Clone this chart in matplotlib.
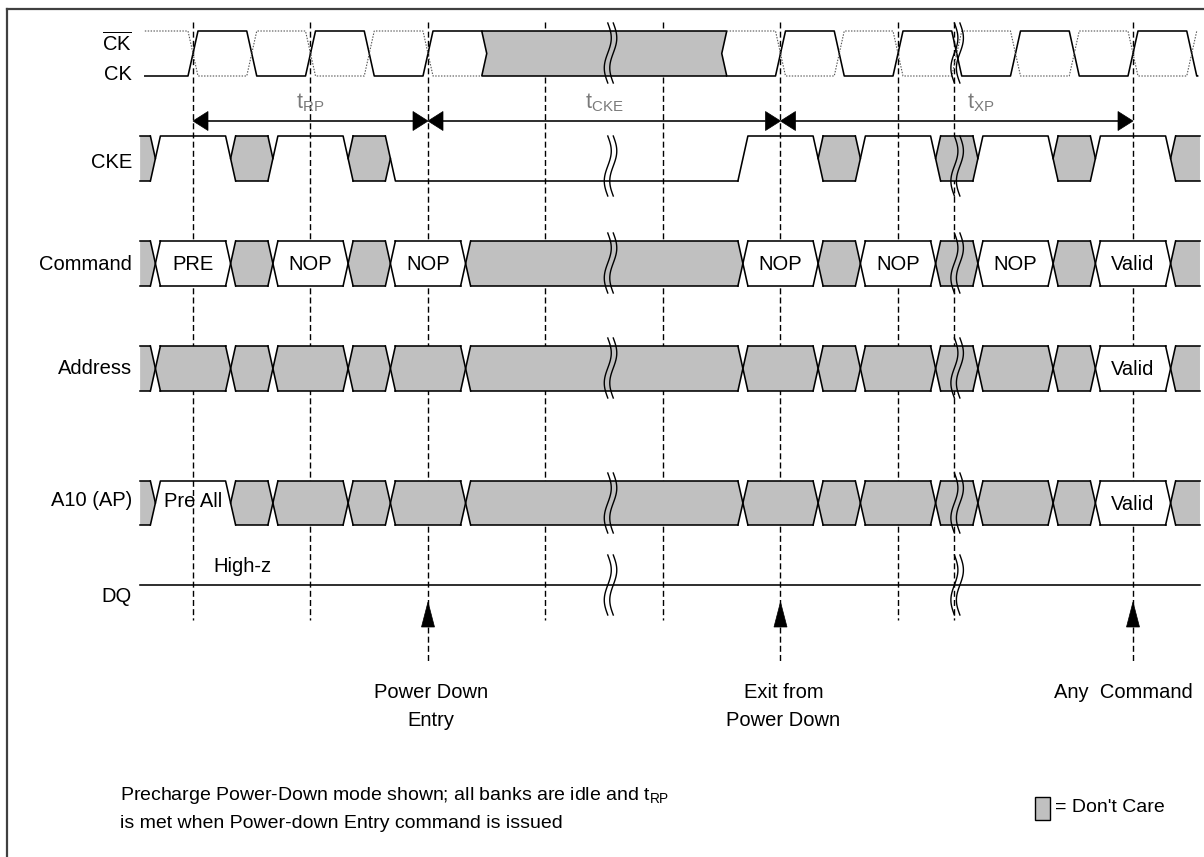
import numpy as np
import matplotlib
matplotlib.use("Agg")
import matplotlib.pyplot as plt
from matplotlib.patches import Polygon, Rectangle

plt.rcParams['font.family'] = ['Liberation Sans', 'DejaVu Sans']

# ---- timing data (x in clock cycles, 0 = first reference rising edge) ----
guide_edges = [0, 1, 2, 3, 4, 5, 6, 6.48, 8]
arrow_edges = [2, 5, 8]
arrow_texts = [['Power Down', 'Entry'], ['Exit from', 'Power Down'], ['Any  Command']]
break_times = [3.53, 6.48]

timing_names = ['RP', 'CKE', 'XP']
timing_from = [0, 2, 5]
timing_to = [2, 5, 8]

# clock: edges before and after the stopped (don't care) band
ck_start, ck_end = -0.41, 8.55
ck_edges_pre = [0, 0.5, 1, 1.5, 2]
ck_edges_post = [5, 5.5, 6, 6.5, 7, 7.5, 8, 8.5]
ck_idle = (2.5, 4.5)

# CKE levels
cke_edges = [-0.45, -0.32, 0.32, 0.68, 1.32, 1.68, 4.68, 5.32, 5.68,
             6.32, 6.68, 7.32, 7.68, 8.32, 8.57]
cke_states = ['X', 'H', 'X', 'H', 'X', 'L', 'H', 'X', 'H', 'X', 'H', 'X', 'H', 'X']

# bus rows share the same transition points
bus_edges = [-0.45, -0.32, 0.32, 0.68, 1.32, 1.68, 2.32, 4.68, 5.32, 5.68,
             6.32, 6.68, 7.32, 7.68, 8.32, 8.57]
command_vals = ['X', 'PRE', 'X', 'NOP', 'X', 'NOP', 'X', 'NOP', 'X', 'NOP',
                'X', 'NOP', 'X', 'Valid', 'X']
address_vals = ['X', 'X', 'X', 'X', 'X', 'X', 'X', 'X', 'X', 'X',
                'X', 'X', 'X', 'Valid', 'X']
a10_vals = ['X', 'H', 'X', 'X', 'X', 'X', 'X', 'X', 'X', 'X',
            'X', 'X', 'X', 'Valid', 'X']
a10_high_text = 'Pre All'

# ---- layout (pixels) ----
X0, PER = 193, 117.5
def tx(p):
    return (p - X0) / PER

H = tx(X0 + 5)          # half transition width
GRAY = '#c0c0c0'
LW = 1.15
FS = 14.5

fig = plt.figure(figsize=(12.04, 8.57), dpi=100)
ax = fig.add_axes([0, 0, 1, 1])
ax.set_xlim(tx(0), tx(1204))
ax.set_ylim(857, 0)
ax.axis('off')

# frame
ax.plot([tx(7), tx(1204)], [9, 9], color='#404040', lw=1.6)
ax.plot([tx(7), tx(7)], [9, 857], color='#404040', lw=1.6)

# dashed guides
for t in guide_edges:
    bottom = 662 if t in arrow_edges else 620
    ax.plot([t, t], [22, bottom], color='black', lw=1.0,
            dashes=(4.3, 2.3), zorder=1)

# ---- clock ----
CK_T, CK_B = 31, 76
def clock_points(edges, t_from, t_to, level_high):
    pts = [(t_from, CK_T if level_high else CK_B)]
    lvl = level_high
    for e in edges:
        pts.append((e - H, CK_T if lvl else CK_B))
        lvl = not lvl
        pts.append((e + H, CK_T if lvl else CK_B))
    pts.append((t_to, CK_T if lvl else CK_B))
    return pts

band0, band1 = ck_idle[0] - H, ck_idle[1] + H
for solid in (True, False):
    start_high = not solid
    pre = clock_points(ck_edges_pre, ck_start, band0, start_high)
    post = clock_points(ck_edges_post, band1, ck_end, start_high)
    kw = dict(color='black', lw=LW, zorder=3) if solid else \
        dict(color='#555555', lw=0.8, dashes=(1.3, 1.3), zorder=3)
    for seg in (pre, post):
        ax.plot(*zip(*seg), **kw)

ckm = (CK_T + CK_B) / 2
band = [(band0, CK_T), (band1, CK_T), (ck_idle[1], ckm), (band1, CK_B),
        (band0, CK_B), (ck_idle[0], ckm)]
ax.add_patch(Polygon(band, closed=True, fc=GRAY, ec='black', lw=LW, zorder=2))


def draw_signal(edges, states, yt, yb, level_text=None):
    ym = (yt + yb) / 2
    n = len(states)
    for i, s in enumerate(states):
        t0, t1 = edges[i], edges[i + 1]
        cl, cr = i == 0, i == n - 1
        if s in ('H', 'L'):
            lvl = yt if s == 'H' else yb
            pts = []
            if cl:
                pts.append((t0, lvl))
            else:
                p = states[i - 1]
                if p in ('H', 'L'):
                    pts.append((t0 - H, yt if p == 'H' else yb))
                else:
                    pts.append((t0, ym))
                pts.append((t0 + H, lvl))
            if cr:
                pts.append((t1, lvl))
            else:
                pts.append((t1 - H, lvl))
                if states[i + 1] not in ('H', 'L'):
                    pts.append((t1, ym))
            ax.plot(*zip(*pts), color='black', lw=LW, zorder=3)
            if level_text and s == 'H':
                ax.text((t0 + t1) / 2, ym - 2, level_text, ha='center',
                        va='center', fontsize=FS, zorder=4)
        else:
            la = t0 if cl else t0 + H
            ra = t1 if cr else t1 - H
            poly = [(la, yt), (ra, yt)]
            if not cr:
                poly.append((t1, ym))
            poly += [(ra, yb), (la, yb)]
            if not cl:
                poly.append((t0, ym))
            fc = GRAY if s == 'X' else 'white'
            ax.add_patch(Polygon(poly, closed=True, fc=fc, ec='none', zorder=2))
            ax.plot([la, ra], [yt, yt], color='black', lw=LW, zorder=3)
            ax.plot([la, ra], [yb, yb], color='black', lw=LW, zorder=3)
            if not cr:
                ax.plot([ra, t1, ra], [yt, ym, yb], color='black', lw=LW, zorder=3)
            if not cl:
                ax.plot([la, t0, la], [yt, ym, yb], color='black', lw=LW, zorder=3)
            if s != 'X':
                ax.text((t0 + t1) / 2, ym + 1, s, ha='center', va='center',
                        fontsize=FS, zorder=4)


draw_signal(cke_edges, cke_states, 136, 181)
draw_signal(bus_edges, command_vals, 241, 286)
draw_signal(bus_edges, address_vals, 346, 391)
draw_signal(bus_edges, a10_vals, 481, 525, level_text=a10_high_text)

# DQ
DQ_Y = 585
ax.plot([bus_edges[0], bus_edges[-1]], [DQ_Y, DQ_Y], color='black', lw=LW, zorder=3)
ax.text(tx(213), 566, 'High-z', ha='left', va='center', fontsize=FS)

# timing arrows
AY = 121
hl, hw = tx(X0 + 15), 9.5
for name, a, b, lx in zip(timing_names, timing_from, timing_to, [1.0, 3.5, 6.7]):
    ax.plot([a + hl, b - hl], [AY, AY], color='black', lw=LW, zorder=3)
    ax.add_patch(Polygon([(a, AY), (a + hl, AY - hw), (a + hl, AY + hw)],
                         fc='black', ec='black', lw=0.5, zorder=4))
    ax.add_patch(Polygon([(b, AY), (b - hl, AY - hw), (b - hl, AY + hw)],
                         fc='black', ec='black', lw=0.5, zorder=4))
    ax.text(lx, 103, r'$\mathregular{t_{%s}}$' % name, ha='center', va='center',
            fontsize=FS + 1, color='#7a7a7a')

# breaks
def draw_break(t, yc, half=30):
    y = np.linspace(yc - half, yc + half, 60)
    s = (y - (yc - half)) / (2 * half)
    a = tx(X0 + 3.5)
    for off in (0, tx(X0 + 5.5)):
        ax.plot(t + off + a * np.sin(2 * np.pi * s), y, color='black',
                lw=1.0, zorder=5)

for t in break_times:
    for yc in (53, 166, 263, 368, 503, DQ_Y):
        draw_break(t, yc)

# DQ arrows and event labels (last one pulled in to stay inside the frame)
label_shift = [3, 3, -10]
for t, lines, dx in zip(arrow_edges, arrow_texts, label_shift):
    ax.add_patch(Polygon([(t, 602), (t - tx(X0 + 6.5), 627), (t + tx(X0 + 6.5), 627)],
                         fc='black', ec='black', lw=0.5, zorder=4))
    for k, line in enumerate(lines):
        ax.text(t + tx(X0 + dx), 692 + 28 * k, line, ha='center', va='center',
                fontsize=FS)

# row labels
LX = tx(132)
ax.text(LX, 43, r'$\mathregular{\overline{CK}}$', ha='right', va='center', fontsize=FS)
ax.text(LX, 74, 'CK', ha='right', va='center', fontsize=FS)
ax.text(LX, 162, 'CKE', ha='right', va='center', fontsize=FS)
ax.text(LX, 264, 'Command', ha='right', va='center', fontsize=FS)
ax.text(LX, 368, 'Address', ha='right', va='center', fontsize=FS)
ax.text(LX, 500, 'A10 (AP)', ha='right', va='center', fontsize=FS)
ax.text(LX, 597, 'DQ', ha='right', va='center', fontsize=FS)

# note and legend
ax.text(tx(120), 795, r'Precharge Power-Down mode shown; all banks are idle and $\mathregular{t_{RP}}$',
        ha='left', va='center', fontsize=FS - 0.5)
ax.text(tx(120), 823, 'is met when Power-down Entry command is issued',
        ha='left', va='center', fontsize=FS - 0.5)
ax.add_patch(Rectangle((tx(1035), 797), tx(X0 + 15), 23, fc=GRAY, ec='black', lw=1.0))
ax.text(tx(1055), 808, "= Don't Care", ha='left', va='center', fontsize=FS - 0.5)

fig.savefig('out.png', dpi=100)
